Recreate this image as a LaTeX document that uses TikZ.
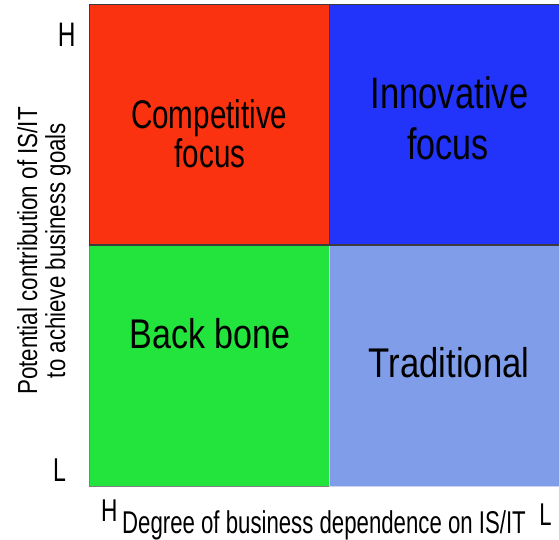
\documentclass[tikz,border=0pt]{standalone}
\usepackage{fontspec}
\usepackage{graphicx}
\setmainfont{Liberation Sans}
\definecolor{qred}{RGB}{250,50,15}
\definecolor{qblue}{RGB}{35,52,250}
\definecolor{qgreen}{RGB}{35,228,60}
\definecolor{qlight}{RGB}{127,157,232}
\definecolor{qedge}{RGB}{60,60,60}
\definecolor{qpale}{RGB}{205,212,240}
\newcommand{\sz}[1]{\fontsize{#1}{#1}\selectfont}
\tikzset{
  lbl/.style={inner sep=0pt, anchor=base, text=black},
}
\begin{document}
\begin{tikzpicture}[x=1pt,y=-1pt]
\useasboundingbox (0,0) rectangle (559,540);
\fill[white] (0,0) rectangle (559,540);
% quadrants
\fill[qred] (89,5) rectangle (329,245);
\fill[qblue] (329,5) rectangle (562,245);
\fill[qgreen] (89,245) rectangle (329,486);
\fill[qlight] (329,245) rectangle (562,486);
\draw[qpale, line width=1pt] (329.5,245) -- (329.5,486) -- (562,486);
\draw[gray, line width=0.8pt] (89,245) -- (89,486) -- (329,486);
\draw[qedge, line width=1pt] (89,245) -- (89,5) -- (562,5);
\draw[qedge, line width=1pt] (329,5) -- (329,245);
\draw[qedge, line width=1.6pt] (89,245) -- (562,245);
% quadrant labels
\node[lbl] (c1) at (209.2,128.3) {\sz{40}\scalebox{0.74}[1]{Competitive}};
\node[lbl] (c2) at (210,167.3) {\sz{40}\scalebox{0.74}[1]{focus}};
\node[lbl] (i1) at (449.5,108.3) {\sz{44}\scalebox{0.785}[1]{Innovative}};
\node[lbl] (i2) at (448,160) {\sz{44}\scalebox{0.775}[1]{focus}};
\node[lbl] (b1) at (210,348.3) {\sz{41.5}\scalebox{0.82}[1]{Back bone}};
\node[lbl] (t1) at (449,377.7) {\sz{41.5}\scalebox{0.835}[1]{Traditional}};
% axis letters
\node[lbl] (hy) at (66.7,46.7) {\sz{34}\scalebox{0.72}[1]{H}};
\node[lbl] (ly) at (59.5,481) {\sz{33}\scalebox{0.7}[1]{L}};
\node[lbl] (hx) at (109.2,521.7) {\sz{31.5}\scalebox{0.72}[1]{H}};
\node[lbl] (lx) at (545.5,525) {\sz{31.5}\scalebox{0.7}[1]{L}};
% axis titles
\node[lbl] (xt) at (324,533) {\sz{31.5}\scalebox{0.705}[1]{Degree of business dependence on IS/IT}};
\node[lbl, rotate=90] (yt1) at (37,251) {\sz{27.5}\scalebox{0.815}[1]{Potential contribution of IS/IT}};
\node[lbl, rotate=90] (yt2) at (65,250.5) {\sz{27.5}\scalebox{0.81}[1]{to achieve business goals}};
\end{tikzpicture}
\end{document}
